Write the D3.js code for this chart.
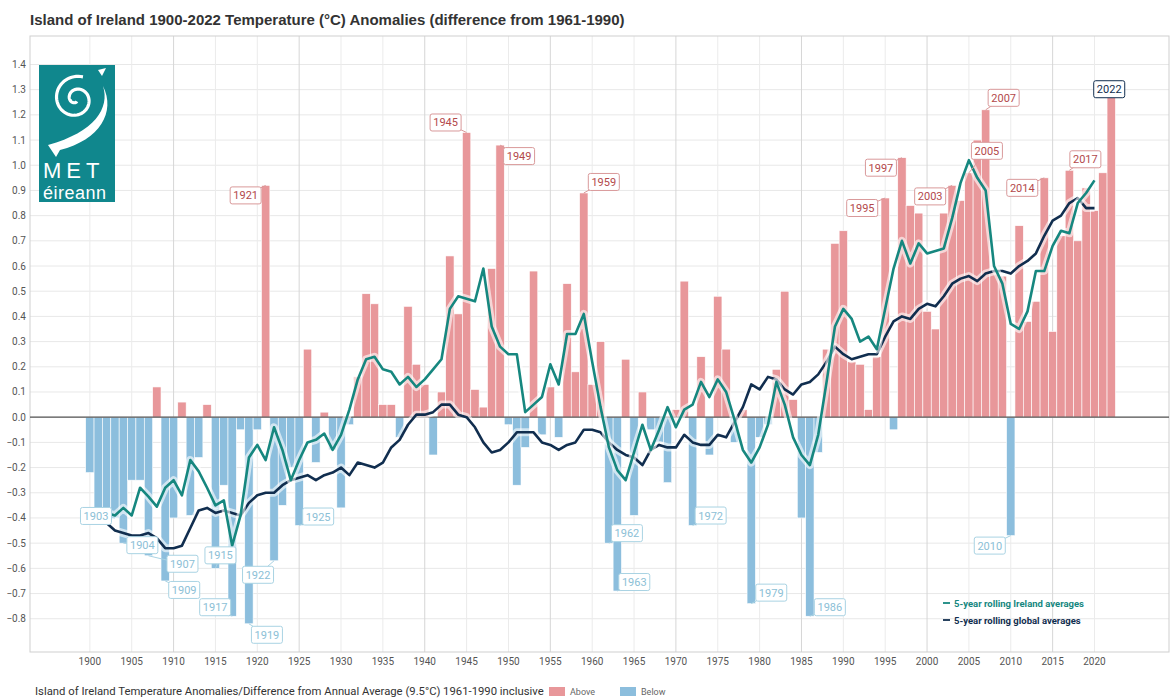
<!DOCTYPE html>
<html>
<head>
<meta charset="utf-8">
<script src="https://cdn.jsdelivr.net/npm/d3@7"></script>
<style>
  body { margin: 0; background: #fff; }
  svg { display: block; font-family: Roboto, "Liberation Sans", sans-serif; }
</style>
</head>
<body>
<svg width="1173" height="700"></svg>
<script>
// Annual anomalies (°C) vs 1961-1990, 1900..2022
const firstYear = 1900;
const anomalies = [
  -0.22, -0.36, -0.42, -0.40, -0.50, -0.25, -0.25, -0.55, 0.12, -0.65,   // 1900s
  -0.40, 0.06, -0.39, -0.16, 0.05, -0.60, -0.27, -0.79, -0.05, -0.82,    // 1910s
  -0.05, 0.92, -0.57, -0.35, -0.20, -0.43, 0.27, -0.18, 0.02, -0.13,     // 1920s
  -0.36, -0.03, 0.16, 0.49, 0.45, 0.05, 0.05, -0.08, 0.44, 0.21,         // 1930s
  0.13, -0.15, 0.10, 0.64, 0.41, 1.13, 0.11, 0.04, 0.59, 1.08,           // 1940s
  -0.03, -0.27, -0.12, 0.58, -0.07, 0.12, -0.08, 0.53, 0.18, 0.89,       // 1950s
  0.13, 0.30, -0.50, -0.69, 0.23, -0.39, 0.10, -0.05, -0.10, -0.26,      // 1960s
  0.03, 0.54, -0.43, 0.24, -0.15, 0.48, 0.27, -0.10, 0.03, -0.74,        // 1970s
  -0.08, -0.03, 0.19, 0.50, 0.07, -0.40, -0.79, -0.14, 0.27, 0.69,       // 1980s
  0.74, 0.22, 0.21, 0.03, 0.24, 0.87, -0.05, 1.03, 0.84, 0.81,           // 1990s
  0.42, 0.35, 0.81, 0.92, 0.86, 0.97, 1.10, 1.22, 0.58, 0.56,            // 2000s
  -0.47, 0.76, 0.38, 0.46, 0.95, 0.34, 0.72, 0.98, 0.70, 0.91,           // 2010s
  0.82, 0.97, 1.27                                                       // 2020s
];

// 5-year rolling averages, centred, 1902..2020
const rollingStart = 1902;
const irelandRolling = [
  -0.38, -0.39, -0.36, -0.39, -0.28, -0.315, -0.355, -0.28,
  -0.25, -0.31, -0.17, -0.215, -0.28, -0.35, -0.33, -0.51, -0.39, -0.16,
  -0.11, -0.17, -0.04, -0.13, -0.25, -0.17, -0.10, -0.09, -0.065, -0.13,
  -0.07, 0.03, 0.15, 0.23, 0.24, 0.19, 0.18, 0.13, 0.16, 0.12,
  0.15, 0.19, 0.23, 0.43, 0.48, 0.47, 0.46, 0.59, 0.36, 0.28,
  0.25, 0.25, 0.02, 0.05, 0.08, 0.21, 0.13, 0.33, 0.33, 0.41,
  0.22, 0.04, -0.12, -0.21, -0.25, -0.14, -0.03, -0.13, -0.05, 0.04,
  -0.04, 0.03, 0.05, 0.14, 0.08, 0.15, 0.10, -0.01, -0.13, -0.18,
  -0.12, -0.03, 0.14, 0.05, -0.08, -0.15, -0.19, -0.07, 0.14, 0.36,
  0.43, 0.39, 0.30, 0.32, 0.27, 0.43, 0.59, 0.70, 0.61, 0.69,
  0.65, 0.66, 0.67, 0.79, 0.93, 1.02, 0.95, 0.90, 0.60, 0.53,
  0.37, 0.35, 0.42, 0.58, 0.58, 0.68, 0.74, 0.73, 0.85, 0.89,
  0.94
];
const globalRolling = [
  -0.42, -0.45, -0.46, -0.47, -0.47, -0.46, -0.48, -0.52,
  -0.52, -0.51, -0.44, -0.37, -0.36, -0.38, -0.37, -0.38, -0.39, -0.34,
  -0.31, -0.30, -0.30, -0.27, -0.25, -0.24, -0.23, -0.25, -0.23, -0.22,
  -0.20, -0.23, -0.18, -0.19, -0.20, -0.18, -0.12, -0.09, -0.03, 0.01,
  0.01, 0.02, 0.05, 0.05, 0.01, 0.00, -0.04, -0.10, -0.14, -0.13,
  -0.10, -0.06, -0.06, -0.06, -0.10, -0.11, -0.13, -0.11, -0.10, -0.05,
  -0.05, -0.06, -0.10, -0.13, -0.15, -0.16, -0.19, -0.13, -0.11, -0.12,
  -0.12, -0.07, -0.10, -0.11, -0.11, -0.07, -0.08, -0.02, 0.04, 0.13,
  0.11, 0.16, 0.15, 0.11, 0.09, 0.13, 0.14, 0.17, 0.22, 0.28,
  0.25, 0.23, 0.24, 0.25, 0.25, 0.32, 0.38, 0.40, 0.39, 0.43,
  0.45, 0.44, 0.48, 0.53, 0.55, 0.56, 0.54, 0.57, 0.58, 0.58,
  0.57, 0.60, 0.62, 0.65, 0.72, 0.78, 0.80, 0.85, 0.87, 0.83,
  0.83
];

// years that get a callout label
const labelledYears = [1903, 1904, 1907, 1909, 1915, 1917, 1919, 1921, 1922, 1925,
  1945, 1949, 1959, 1962, 1963, 1972, 1979, 1986, 1995, 1997, 2003, 2005, 2007,
  2010, 2014, 2017, 2022];

const yTicks = [-0.8, -0.7, -0.6, -0.5, -0.4, -0.3, -0.2, -0.1, 0, 0.1, 0.2, 0.3,
  0.4, 0.5, 0.6, 0.7, 0.8, 0.9, 1.0, 1.1, 1.2, 1.3, 1.4];
const xTicks = [1900, 1905, 1910, 1915, 1920, 1925, 1930, 1935, 1940, 1945, 1950,
  1955, 1960, 1965, 1970, 1975, 1980, 1985, 1990, 1995, 2000, 2005, 2010, 2015, 2020];

const bars = anomalies.map((v, i) => ({ year: firstYear + i, value: v }));
const irelandSeries = irelandRolling.map((v, i) => ({ year: rollingStart + i, value: v }));
const globalSeries = globalRolling.map((v, i) => ({ year: rollingStart + i, value: v }));

// label offsets from the bar tip, in pixels
const labelOffset = {
  1903: [-19, -2], 1904: [19, 2], 1907: [34, 8], 1909: [19, 9], 1915: [5, -13],
  1917: [-17, -9], 1919: [18, 11], 1921: [-20, 10], 1922: [-16, 14], 1925: [19, -9],
  1945: [-21, -10], 1949: [19, 11], 1959: [20, -11], 1962: [18, -10], 1963: [17, -9],
  1972: [18, -10], 1979: [20, -11], 1986: [20, -9], 1995: [-23, 10], 1997: [-21, 10],
  2003: [-22, 11], 2005: [18, -22], 2007: [18, -12], 2010: [-21, 10], 2014: [-22, 10],
  2017: [16, -11], 2022: [-2, -8]
};

const RED = "#e8979a", BLUE = "#8cbedd", TEAL = "#16877f", NAVY = "#112e4f";
const plotLeft = 30, plotRight = 1169, plotTop = 36, plotBottom = 652;

const svg = d3.select("svg");

const x = d3.scaleLinear().domain([1892.85, 2028.9]).range([plotLeft, plotRight]);
const y = d3.scaleLinear().domain([-0.932, 1.513]).range([plotBottom, plotTop]);
const bw = x(1901) - x(1900);

// title
svg.append("text")
  .attr("x", 30).attr("y", 25)
  .attr("font-size", 15).attr("font-weight", 700).attr("fill", "#333")
  .attr("font-family", "'Liberation Sans', Arial, sans-serif")
  .text("Island of Ireland 1900-2022 Temperature (°C) Anomalies (difference from 1961-1990)");

// grid
svg.append("g").selectAll("line").data(yTicks).join("line")
  .attr("x1", plotLeft).attr("x2", plotRight)
  .attr("y1", d => y(d)).attr("y2", d => y(d))
  .attr("stroke", "#e8e8e8");
svg.append("g").selectAll("line").data(xTicks).join("line")
  .attr("x1", d => x(d)).attr("x2", d => x(d))
  .attr("y1", plotTop).attr("y2", plotBottom)
  .attr("stroke", d => (d - 1910) % 15 === 0 ? "#d6d6d6" : "#ebebeb");
svg.append("rect")
  .attr("x", plotLeft).attr("y", plotTop)
  .attr("width", plotRight - plotLeft).attr("height", plotBottom - plotTop)
  .attr("fill", "none").attr("stroke", "#cfcfcf");

// y tick labels
svg.append("g").selectAll("text").data(yTicks).join("text")
  .attr("x", 26).attr("y", d => y(d) + 3.5)
  .attr("text-anchor", "end").attr("font-size", 10).attr("fill", "#555")
  .text(d => d3.format(".1f")(d));

// x tick labels
svg.append("g").selectAll("text").data(xTicks).join("text")
  .attr("x", d => x(d)).attr("y", 665)
  .attr("text-anchor", "middle").attr("font-size", 10).attr("fill", "#555")
  .text(d => d);

// logo
const logo = svg.append("g");
logo.append("rect").attr("x", 39).attr("y", 65).attr("width", 76).attr("height", 137)
  .attr("fill", "#10878d");
const spiral = d3.range(0, 10.2, 0.1).map(t => {
  const r = 2.5 + t * 2.05;
  return [76 + r * Math.cos(t + 1.2), 99 + r * Math.sin(t + 1.2)];
});
logo.append("path").attr("d", d3.line()(spiral))
  .attr("fill", "none").attr("stroke", "#fff").attr("stroke-width", 3.2);
logo.append("path")
  .attr("d", "M98,70 L106,68 L102,76 Z M103,86 C110,108 95,132 48,145 L56,157 L60,150 C100,140 116,112 103,86 Z")
  .attr("fill", "#fff");
logo.append("text").attr("x", 43).attr("y", 178)
  .attr("font-size", 22).attr("letter-spacing", 5).attr("fill", "#fff")
  .attr("font-family", "'Liberation Sans', Arial, sans-serif")
  .text("MET");
logo.append("text").attr("x", 43).attr("y", 199)
  .attr("font-size", 18).attr("letter-spacing", 0.5).attr("fill", "#fff")
  .attr("font-family", "'Liberation Sans', Arial, sans-serif")
  .text("éireann");

// bars
svg.append("g").selectAll("rect").data(bars).join("rect")
  .attr("x", d => x(d.year) - bw / 2)
  .attr("width", bw)
  .attr("y", d => y(Math.max(0, d.value)))
  .attr("height", d => Math.abs(y(d.value) - y(0)))
  .attr("fill", d => d.value >= 0 ? RED : BLUE)
  .attr("stroke", "#fff").attr("stroke-width", 0.6);

// zero line
svg.append("line")
  .attr("x1", plotLeft).attr("x2", plotRight).attr("y1", y(0)).attr("y2", y(0))
  .attr("stroke", "#555").attr("stroke-width", 1.2);

// rolling lines with a soft halo
const line = d3.line().x(d => x(d.year)).y(d => y(d.value));
[[globalSeries, NAVY], [irelandSeries, TEAL]].forEach(([data, color]) => {
  svg.append("path").datum(data).attr("d", line)
    .attr("fill", "none").attr("stroke", "#fff").attr("stroke-opacity", 0.6)
    .attr("stroke-width", 8).attr("stroke-linejoin", "round");
  svg.append("path").datum(data).attr("d", line)
    .attr("fill", "none").attr("stroke", color)
    .attr("stroke-width", 2.6).attr("stroke-linejoin", "round");
});

// callout labels
const labels = svg.append("g").selectAll("g")
  .data(labelledYears.map(yr => bars[yr - firstYear]))
  .join("g");
const labelStroke = d => d.year === 2022 ? NAVY : d.value >= 0 ? "#d9999a" : "#a9d3e3";
const labelText = d => d.year === 2022 ? NAVY : d.value >= 0 ? "#b3494b" : "#8cc0d6";
labels.each(function (d) {
  const g = d3.select(this);
  const tx = x(d.year), ty = y(d.value);
  const [dx, dy] = labelOffset[d.year];
  const cx = tx + dx, cy = ty + dy;
  g.append("line").attr("x1", cx).attr("y1", cy).attr("x2", tx).attr("y2", ty)
    .attr("stroke", labelStroke(d)).attr("stroke-width", 1);
  g.append("rect").attr("x", cx - 15.5).attr("y", cy - 8.5)
    .attr("width", 31).attr("height", 17).attr("rx", 2)
    .attr("fill", "#fff").attr("stroke", labelStroke(d));
  g.append("text").attr("x", cx).attr("y", cy + 4)
    .attr("text-anchor", "middle").attr("font-size", 11)
    .attr("fill", labelText(d)).text(d.year);
});

// line legend
const legend = svg.append("g").attr("font-size", 9.5).attr("font-weight", 700);
[["5-year rolling Ireland averages", TEAL, 603], ["5-year rolling global averages", NAVY, 620]]
  .forEach(([t, c, yy]) => {
    legend.append("line").attr("x1", 943).attr("x2", 950).attr("y1", yy).attr("y2", yy)
      .attr("stroke", c).attr("stroke-width", 1.8);
    legend.append("text").attr("x", 954).attr("y", yy + 3.5).attr("fill", c).text(t);
  });

// footer
svg.append("text").attr("x", 35).attr("y", 695)
  .attr("font-size", 11.3).attr("fill", "#333")
  .text("Island of Ireland Temperature Anomalies/Difference from Annual Average (9.5°C) 1961-1990 inclusive");
[["Above", RED, 549], ["Below", BLUE, 620]].forEach(([t, c, xx]) => {
  svg.append("rect").attr("x", xx).attr("y", 687).attr("width", 16).attr("height", 9).attr("fill", c);
  svg.append("text").attr("x", xx + 21).attr("y", 695)
    .attr("font-size", 9).attr("fill", "#666").text(t);
});
</script>
</body>
</html>
